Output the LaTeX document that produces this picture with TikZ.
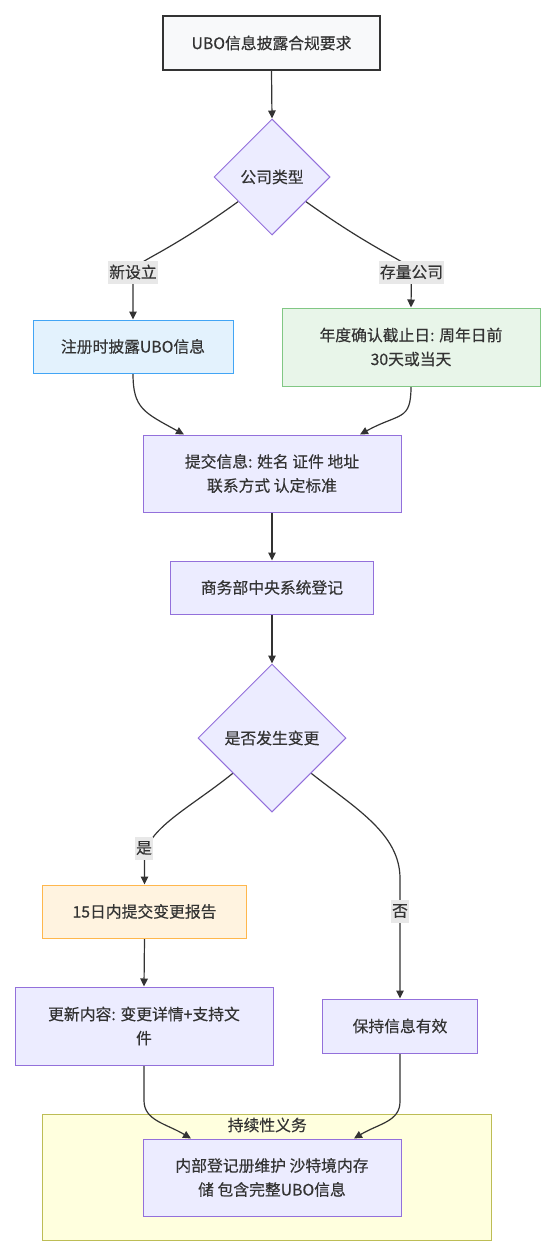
\documentclass[tikz,border=0pt]{standalone}
\usepackage{fontspec}
\setmainfont{Noto Sans CJK SC}[FakeBold=0.4]
\usetikzlibrary{shapes.geometric,arrows.meta,calc}
\definecolor{txt}{HTML}{333333}
\definecolor{edgec}{HTML}{333333}
\definecolor{deffill}{HTML}{ECECFF}
\definecolor{defdraw}{HTML}{9370DB}
\definecolor{topfill}{HTML}{F8F9FA}
\definecolor{topdraw}{HTML}{333333}
\definecolor{bluefill}{HTML}{E3F2FD}
\definecolor{bluedraw}{HTML}{42A5F5}
\definecolor{greenfill}{HTML}{E8F5E9}
\definecolor{greendraw}{HTML}{81C784}
\definecolor{orfill}{HTML}{FFF3E0}
\definecolor{ordraw}{HTML}{FFB74D}
\definecolor{clfill}{HTML}{FFFFDE}
\definecolor{cldraw}{HTML}{BDBD55}
\definecolor{lblbg}{HTML}{E8E8E8}
\pgfdeclarelayer{bgl}
\pgfdeclarelayer{edgel}
\pgfsetlayers{bgl,edgel,main}
\begin{document}
\begin{tikzpicture}[x=1pt,y=-1pt,
  font=\fontsize{15.8}{24}\selectfont, text=txt,
  box/.style={rectangle, draw=defdraw, fill=deffill, line width=1pt, align=center, inner sep=0pt},
  dia/.style={diamond, draw=defdraw, fill=deffill, line width=1pt, inner sep=0pt, aspect=1},
  lbl/.style={fill=lblbg, inner xsep=1pt, inner ysep=0pt, minimum height=23pt},
  conn/.style={draw=edgec, line width=1.2pt, -{Triangle[length=8pt,width=7.5pt]}},
]
\useasboundingbox (0,0) rectangle (547,1250);

% nodes
\node[box, draw=topdraw, fill=topfill, line width=2pt, minimum width=217pt, minimum height=54pt] (top) at (271.5,43) {UBO信息披露合规要求};
\node[dia, minimum width=116pt, minimum height=116pt] (d1) at (272,177) {公司类型};
\node[box, fill=bluefill, draw=bluedraw, minimum width=200pt, minimum height=53pt] (reg) at (133,346.5) {注册时披露UBO信息};
\node[box, fill=greenfill, draw=greendraw, minimum width=258pt, minimum height=78pt] (ann) at (411,347) {年度确认截止日: 周年日前\\30天或当天};
\node[box, minimum width=258pt, minimum height=77pt] (sub) at (272,473.5) {提交信息: 姓名 证件 地址\\联系方式 认定标准};
\node[box, minimum width=203pt, minimum height=53pt] (moc) at (272,587.5) {商务部中央系统登记};
\node[dia, minimum width=148pt, minimum height=148pt] (d2) at (272,738) {是否发生变更};
\node[box, fill=orfill, draw=ordraw, minimum width=204pt, minimum height=53pt] (rep) at (144.5,911.5) {15日内提交变更报告};
\node[box, minimum width=258pt, minimum height=78pt] (upd) at (144,1026) {更新内容: 变更详情+支持文\\件};
\node[box, minimum width=155pt, minimum height=54pt] (keep) at (400,1026) {保持信息有效};
\node[box, minimum width=258pt, minimum height=77pt] (inner) at (272,1177.5) {内部登记册维护 沙特境内存\\储 包含完整UBO信息};

% cluster
\begin{pgfonlayer}{bgl}
\node[rectangle, draw=cldraw, fill=clfill, line width=1pt, minimum width=449pt, minimum height=126pt, inner sep=0pt] (cl) at (267.3,1177) {};
\end{pgfonlayer}
\node (cltitle) at (267.3,1125) {持续性义务};

% edge labels
\node[lbl] (l1) at (133,272) {新设立};
\node[lbl] (l2) at (411.5,272) {存量公司};
\node[lbl] (l3) at (144,848) {是};
\node[lbl] (l4) at (400,911) {否};

% edges
\begin{pgfonlayer}{edgel}
\draw[conn] (top.south) -- (d1.north);
\draw[conn] (d1.216) .. controls (160,258) and (133,262) .. (l1.center) -- (reg.north);
\draw[conn] (d1.324) .. controls (385,258) and (411.5,262) .. (l2.center) -- (ann.north);
\draw[conn] (reg.south) .. controls +(0,35) and +(-40,-22) .. ([xshift=-88pt]sub.north);
\draw[conn] (ann.south) .. controls +(0,35) and +(40,-22) .. ([xshift=88pt]sub.north);
\draw[conn] (sub.south) -- (moc.north);
\draw[conn] (moc.south) -- (d2.north);
\draw[conn] (d2.222) .. controls (190,808) and ($(rep.north)+(0,-55)$) .. ($(rep.north)+(0,-25)$) -- (rep.north);
\draw[conn] (d2.318) .. controls (355,808) and ($(keep.north)+(0,-165)$) .. ($(keep.north)+(0,-120)$) -- (keep.north);
\draw[conn] (rep.south) -- (upd.north);
\draw[conn] (upd.south) -- ++(0,35) .. controls +(0,20) and +(-25,-15) .. ([xshift=-81pt]inner.north);
\draw[conn] (keep.south) -- ++(0,48) .. controls +(0,20) and +(25,-15) .. ([xshift=82pt]inner.north);
\end{pgfonlayer}
\end{tikzpicture}
\end{document}
